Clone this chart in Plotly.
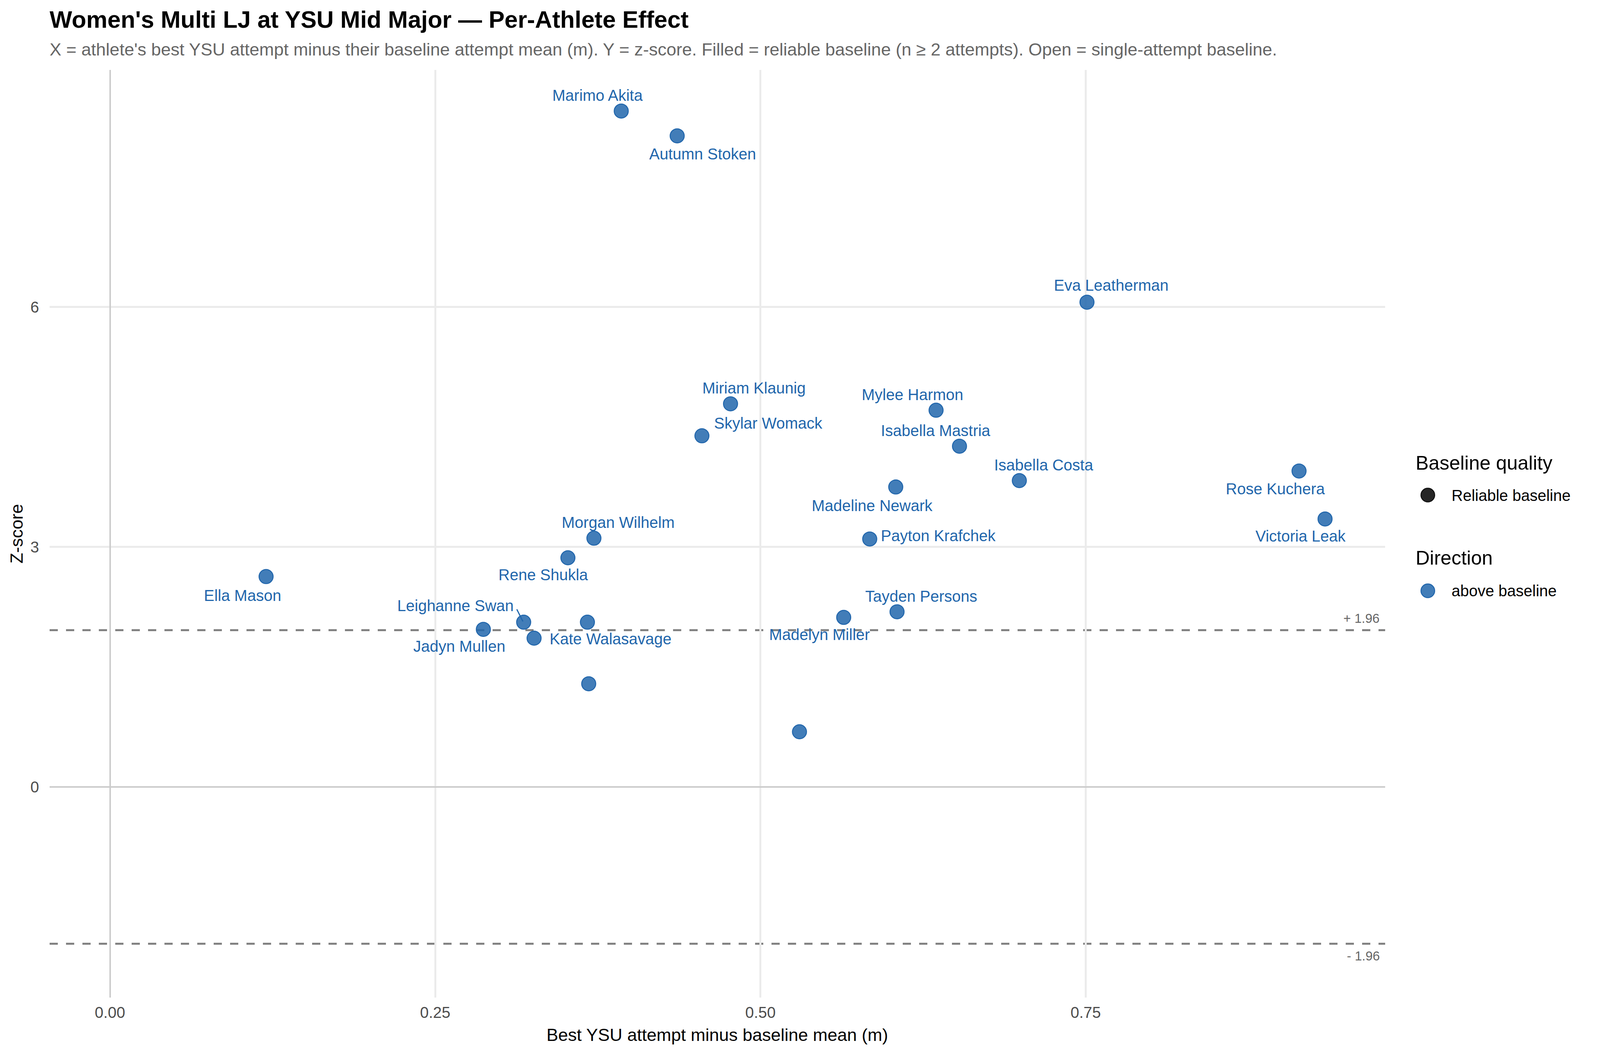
import plotly.graph_objs as go

# athletes, best YSU attempt minus baseline mean (m), z-score
athletes = [
    "Marimo Akita", "Autumn Stoken", "Eva Leatherman", "Miriam Klaunig", "Skylar Womack",
    "Mylee Harmon", "Isabella Mastria", "Isabella Costa", "Rose Kuchera", "Madeline Newark",
    "Victoria Leak", "Morgan Wilhelm", "Payton Krafchek", "Rene Shukla", "Ella Mason",
    "Tayden Persons", "Madelyn Miller", "Leighanne Swan", "", "Jadyn Mullen",
    "Kate Walasavage", "", "",
]
best_minus_baseline = [
    0.393, 0.436, 0.751, 0.477, 0.455,
    0.635, 0.653, 0.699, 0.914, 0.604,
    0.934, 0.372, 0.584, 0.352, 0.120,
    0.605, 0.564, 0.318, 0.367, 0.287,
    0.326, 0.368, 0.530,
]
z_scores = [
    8.45, 8.14, 6.06, 4.79, 4.39,
    4.71, 4.26, 3.83, 3.95, 3.75,
    3.35, 3.11, 3.10, 2.865, 2.63,
    2.19, 2.12, 2.06, 2.06, 1.97,
    1.86, 1.29, 0.69,
]
reliable = [
    True, True, True, True, True,
    True, True, True, True, True,
    True, True, True, True, True,
    True, True, True, True, True,
    True, True, True,
]
x_ticks = [0, 0.25, 0.5, 0.75]
x_tick_text = ["0.00", "0.25", "0.50", "0.75"]
y_ticks = [0, 3, 6]
z_crit = 1.96

# label nudges in pixels (ggrepel-like placement), dy > 0 is up
label_nudge = {
    "Marimo Akita": (-62, 40), "Autumn Stoken": (67, -46), "Eva Leatherman": (64, 43),
    "Miriam Klaunig": (62, 40), "Skylar Womack": (174, 32), "Mylee Harmon": (-62, 40),
    "Isabella Mastria": (-62, 40), "Isabella Costa": (64, 40), "Rose Kuchera": (-62, -46),
    "Madeline Newark": (-62, -48), "Victoria Leak": (-64, -44), "Morgan Wilhelm": (64, 40),
    "Payton Krafchek": (180, 8), "Rene Shukla": (-64, -43), "Ella Mason": (-62, -48),
    "Tayden Persons": (64, 40), "Madelyn Miller": (-63, -44), "Leighanne Swan": (-179, 42),
    "Jadyn Mullen": (-63, -43), "Kate Walasavage": (201, -2),
}

# the browser viewport is 4096 wide and the page body has an 8px margin,
# so the layout is drawn in reference pixels and squeezed to fit
SX = 4096 / 4200
OFF = 8
REF_L, REF_R, REF_T, REF_B = 130, 3636, 179, 2553
W, H = 4096 - OFF, 2700 - OFF
PL, PR = REF_L * SX - OFF, REF_R * SX - OFF
PT, PB = REF_T - OFF, REF_B - OFF
FONT = "Liberation Sans, Arial, sans-serif"
BLUE = "#2166AC"


def px_x(X):
    return (X - REF_L) / (REF_R - REF_L)


def px_y(Y):
    return (REF_B - Y) / (REF_B - REF_T)


fig = go.Figure()
fig.add_trace(go.Scatter(
    x=best_minus_baseline, y=z_scores, mode="markers",
    marker=dict(
        size=36,
        symbol=["circle" if r else "circle-open" for r in reliable],
        color="rgba(33,102,172,0.85)",
        line=dict(color=BLUE, width=2.5),
    ),
    showlegend=False, hoverinfo="skip",
))

annotations = []
for name, xv, yv in zip(athletes, best_minus_baseline, z_scores):
    if not name:
        continue
    dx, dy = label_nudge[name]
    annotations.append(dict(
        x=xv, y=yv, xref="x", yref="y", text=name, showarrow=False,
        xshift=dx * SX, yshift=dy, xanchor="center", yanchor="middle",
        font=dict(family=FONT, size=40, color=BLUE),
    ))

shapes = []
for zc in (z_crit, -z_crit):
    shapes.append(dict(
        type="line", xref="paper", yref="y", x0=0, x1=1, y0=zc, y1=zc,
        line=dict(color="#7f7f7f", width=5, dash="21px,21px"), layer="below",
    ))

# repel segment for Leighanne Swan
i_ls = athletes.index("Leighanne Swan")
shapes.append(dict(
    type="line", xref="x", yref="y",
    xsizemode="pixel", ysizemode="pixel",
    xanchor=best_minus_baseline[i_ls], yanchor=z_scores[i_ls],
    x0=-18 * SX, x1=-2 * SX, y0=33, y1=2,
    line=dict(color=BLUE, width=3),
))

annotations += [
    dict(x=px_x(3624), y=px_y(1582), xref="paper", yref="paper", text="+ 1.96",
         showarrow=False, xanchor="right", yanchor="middle",
         font=dict(family=FONT, size=33, color="#666666")),
    dict(x=px_x(3624), y=px_y(2446), xref="paper", yref="paper", text="- 1.96",
         showarrow=False, xanchor="right", yanchor="middle",
         font=dict(family=FONT, size=33, color="#666666")),
    # title and subtitle
    dict(x=px_x(128), y=px_y(50), xref="paper", yref="paper",
         text="Women's Multi LJ at YSU Mid Major — Per-Athlete Effect",
         showarrow=False, xanchor="left", yanchor="middle",
         font=dict(family=FONT, size=61, color="black", weight="bold")),
    dict(x=px_x(128), y=px_y(127), xref="paper", yref="paper",
         text="X = athlete's best YSU attempt minus their baseline attempt mean (m). "
              "Y = z-score. Filled = reliable baseline (n ≥ 2 attempts). "
              "Open = single-attempt baseline.",
         showarrow=False, xanchor="left", yanchor="middle",
         font=dict(family=FONT, size=45, color="#666666")),
    # axis titles
    dict(x=0.5, y=px_y(2648), xref="paper", yref="paper",
         text="Best YSU attempt minus baseline mean (m)",
         showarrow=False, xanchor="center", yanchor="middle",
         font=dict(family=FONT, size=45, color="black")),
    dict(x=px_x(43), y=0.5, xref="paper", yref="paper", text="Z-score", textangle=-90,
         showarrow=False, xanchor="center", yanchor="middle",
         font=dict(family=FONT, size=45, color="black")),
    # legend
    dict(x=px_x(3714), y=px_y(1185), xref="paper", yref="paper", text="Baseline quality",
         showarrow=False, xanchor="left", yanchor="middle",
         font=dict(family=FONT, size=50, color="black")),
    dict(x=px_x(3808), y=px_y(1268), xref="paper", yref="paper", text="Reliable baseline",
         showarrow=False, xanchor="left", yanchor="middle",
         font=dict(family=FONT, size=40, color="black")),
    dict(x=px_x(3714), y=px_y(1428), xref="paper", yref="paper", text="Direction",
         showarrow=False, xanchor="left", yanchor="middle",
         font=dict(family=FONT, size=50, color="black")),
    dict(x=px_x(3808), y=px_y(1512), xref="paper", yref="paper", text="above baseline",
         showarrow=False, xanchor="left", yanchor="middle",
         font=dict(family=FONT, size=40, color="black")),
]

for cy, fill, edge in ((1267, "#262626", "#111111"), (1512, "rgba(33,102,172,0.85)", BLUE)):
    shapes.append(dict(
        type="circle", xref="paper", yref="paper",
        xsizemode="pixel", ysizemode="pixel",
        xanchor=px_x(3748), yanchor=px_y(cy),
        x0=-17.5, x1=17.5, y0=-17.5, y1=17.5,
        fillcolor=fill, line=dict(color=edge, width=2.5),
    ))

fig.update_layout(
    width=W, height=H, autosize=False,
    margin=dict(l=PL, r=W - PR, t=PT, b=H - PB, pad=0),
    paper_bgcolor="white", plot_bgcolor="white",
    font=dict(family=FONT),
    showlegend=False,
    annotations=annotations,
    shapes=shapes,
    xaxis=dict(
        range=[-0.0464, 0.9802], tickvals=x_ticks, ticktext=x_tick_text,
        showgrid=True, gridcolor="#ebebeb", gridwidth=4.5,
        zeroline=True, zerolinecolor="#cccccc", zerolinewidth=4,
        showline=False, ticks="", ticklabelstandoff=11,
        tickfont=dict(family=FONT, size=40, color="#4d4d4d"),
    ),
    yaxis=dict(
        range=[-2.633, 8.964], tickvals=y_ticks,
        showgrid=True, gridcolor="#ebebeb", gridwidth=4.5,
        zeroline=True, zerolinecolor="#cccccc", zerolinewidth=4,
        showline=False, ticks="", ticklabelstandoff=26,
        tickfont=dict(family=FONT, size=40, color="#4d4d4d"),
    ),
)

fig.write_html("out.html")
